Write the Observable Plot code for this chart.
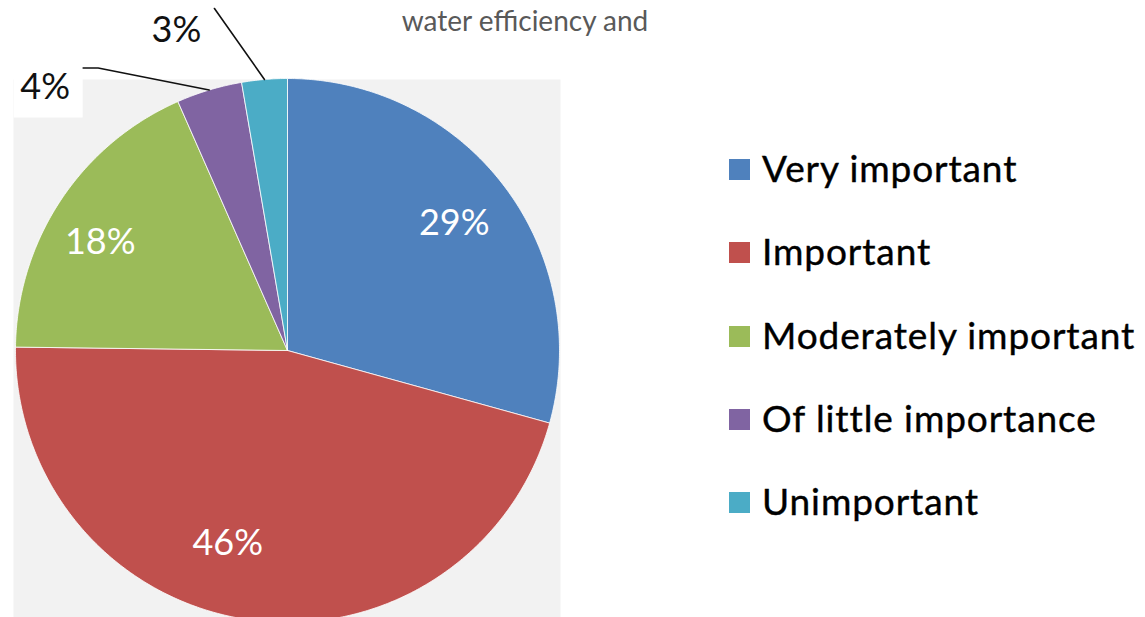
<!DOCTYPE html>
<html>
<head>
<meta charset="utf-8">
<script src="https://cdn.jsdelivr.net/npm/d3@7"></script>
<script src="https://cdn.jsdelivr.net/npm/@observablehq/plot@0.6"></script>
<style>
  html, body { margin: 0; padding: 0; background: #fff; }
  #page { position: relative; width: 1145px; height: 617px; overflow: hidden; font-family: Lato, "Open Sans", sans-serif; }
  #chart { position: absolute; left: 0; top: 0; }
  #title { position: absolute; left: 285px; width: 480px; top: 3px; font-size: 28px; line-height: 1.25; color: #595959; white-space: nowrap; text-align: center; }
  #legend { position: absolute; left: 729px; top: 126px; }
  .row { display: flex; align-items: center; height: 83.3px; }
  .sw { width: 21px; height: 21px; margin-right: 12px; margin-top: 4px; }
  .lab { font-size: 37px; color: #000; line-height: 1; letter-spacing: 0.9px; -webkit-text-stroke: 0.4px #000; }
</style>
</head>
<body>
<div id="page">
  <div id="title"></div>
  <div id="chart"></div>
  <div id="legend"></div>
</div>
<script>
// ---- data ----
const categories = ["Very important", "Important", "Moderately important", "Of little importance", "Unimportant"];
const shares = [29.3, 45.9, 18.2, 3.9, 2.7];
const percentLabels = ["29%", "46%", "18%", "4%", "3%"];
const colors = ["#4F81BD", "#C0504D", "#9BBB59", "#8064A2", "#4BACC6"];
const titleText = "water efficiency and";

// ---- layout (pixels) ----
const W = 575, H = 617, CX = 287, CY = 350, R = 272;
const grayLeft = 13, grayRight = 560, grayTop = 79;
const labelFont = 36;
// inside labels: radius factor and pixel nudges; outside labels: pixel offsets from arc point
const insideLayout = {0: {rf: 0.77, dx: 0, dy: 0}, 1: {rf: 0.75, dx: -31, dy: -9}, 2: {rf: 0.79, dx: -8, dy: 11}};
const outsideLayout = {
  3: {label: [-164, -3], line: [[-111, -22], [-126, -22]], box: [-31, 38, -9, 31]},
  4: {label: [-88, -49], line: [[-50, -71]], box: null}
};

const px = v => v / R; // pixel offset -> unit circle

const pie = d3.pie().sort(null).value(d => d.share).startAngle(0).endAngle(2 * Math.PI);
const rows = categories.map((c, i) => ({name: c, share: shares[i], label: percentLabels[i], i}));
const arcs = pie(rows);

// slice polygons
const polyPts = [];
for (const a of arcs) {
  const n = Math.max(4, Math.ceil((a.endAngle - a.startAngle) / (Math.PI / 360)));
  polyPts.push({name: a.data.name, x: 0, y: 0});
  for (let k = 0; k <= n; k++) {
    const t = a.startAngle + (a.endAngle - a.startAngle) * k / n;
    polyPts.push({name: a.data.name, x: Math.sin(t), y: Math.cos(t)});
  }
  polyPts.push({name: a.data.name, x: 0, y: 0});
}

const inside = [], outside = [], leaders = [], boxes = [];
arcs.forEach((a, i) => {
  const m = (a.startAngle + a.endAngle) / 2;
  if (insideLayout[i]) {
    const L = insideLayout[i];
    inside.push({x: Math.sin(m) * L.rf + px(L.dx), y: Math.cos(m) * L.rf - px(L.dy), text: a.data.label});
  } else if (outsideLayout[i]) {
    const L = outsideLayout[i];
    const ax = Math.sin(m), ay = Math.cos(m);
    const lx = ax + px(L.label[0]), ly = ay - px(L.label[1]);
    outside.push({x: lx, y: ly, text: a.data.label});
    leaders.push({id: i, x: ax, y: ay});
    for (const p of L.line) leaders.push({id: i, x: ax + px(p[0]), y: ay - px(p[1])});
    if (L.box) boxes.push({x1: lx + px(L.box[0]), x2: lx + px(L.box[1]), y1: ly - px(L.box[2]), y2: ly - px(L.box[3])});
  }
});

const chart = Plot.plot({
  width: W, height: H,
  marginLeft: grayLeft, marginRight: W - grayRight, marginTop: grayTop, marginBottom: 0,
  x: {domain: [(grayLeft - CX) / R, (grayRight - CX) / R], axis: null},
  y: {domain: [(CY - H) / R, (CY - grayTop) / R], axis: null},
  color: {domain: categories, range: colors},
  style: {fontFamily: "Lato, 'Open Sans', sans-serif", background: "transparent", overflow: "visible"},
  marks: [
    Plot.frame({fill: "#f2f2f2", stroke: "none"}),
    Plot.rect(boxes, {x1: "x1", x2: "x2", y1: "y1", y2: "y2", fill: "white"}),
    Plot.line(polyPts, {x: "x", y: "y", z: "name", fill: "name", stroke: "white", strokeWidth: 0.8, curve: "linear"}),
    Plot.line(leaders, {x: "x", y: "y", z: "id", stroke: "#111", strokeWidth: 1.6}),
    Plot.text(inside, {x: "x", y: "y", text: "text", fill: "white", fontSize: labelFont}),
    Plot.text(outside, {x: "x", y: "y", text: "text", fill: "#111", fontSize: labelFont})
  ]
});
document.getElementById("chart").appendChild(chart);

document.getElementById("title").textContent = titleText;

const legend = document.getElementById("legend");
categories.forEach((c, i) => {
  const row = document.createElement("div");
  row.className = "row";
  const sw = document.createElement("div");
  sw.className = "sw";
  sw.style.background = colors[i];
  const lab = document.createElement("div");
  lab.className = "lab";
  lab.textContent = c;
  row.appendChild(sw);
  row.appendChild(lab);
  legend.appendChild(row);
});
</script>
</body>
</html>
